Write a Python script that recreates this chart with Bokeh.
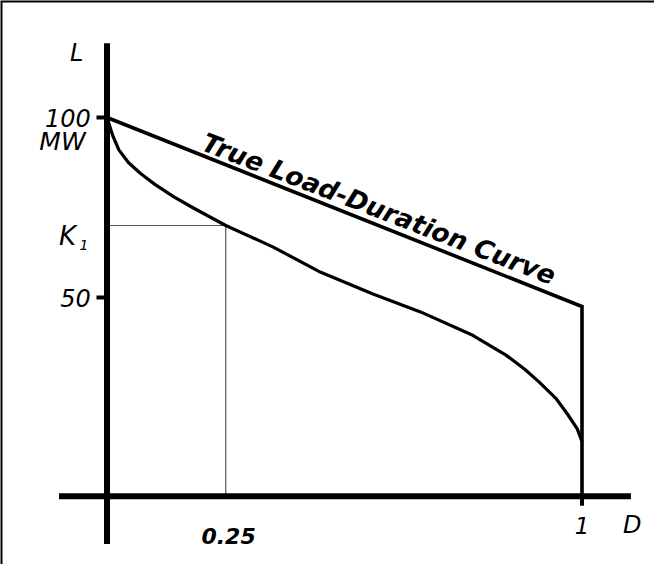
import math
from bokeh.plotting import figure
from bokeh.models import Range1d
from bokeh.core.properties import value
from bokeh.embed import file_html
from bokeh.resources import INLINE

# ---------------- data ----------------
# true load-duration curve (straight line from 100 MW down to the value at D = 1)
true_duration = [0.0, 1.0]
true_load = [100.0, 47.5]

# lower (actual) load-duration curve
duration = [0.0, 0.012, 0.025, 0.045, 0.07, 0.10, 0.14, 0.18, 0.25, 0.35,
            0.45, 0.56, 0.66, 0.77, 0.84, 0.88, 0.91, 0.945, 0.97, 0.99, 1.0]
load = [100.0, 95.0, 91.0, 87.5, 84.5, 81.5, 78.0, 75.0, 70.0, 64.0,
        57.0, 51.0, 46.0, 39.5, 34.0, 30.0, 26.5, 22.0, 17.5, 13.5, 10.0]

k1_duration = 0.25
k1_load = 70.0

y_ticks = [100, 50]
y_tick_labels = ["100", "50"]
x_ticks = [1]
x_tick_labels = ["1"]
curve_label = "True Load-Duration Curve"

# ---------------- layout constants ----------------
W, H = 654, 564                      # canvas starts at page (8, 8)
X_SCALE = 475.0                      # pixels per unit D
Y_SCALE = 3.6                        # pixels per MW
X_START = -(114.5 - 8) / X_SCALE
Y_TOP = (485.0 - 8) / Y_SCALE

AXIS_X_LEVEL = -5.2                  # L value where the horizontal axis sits
AXIS_Y_TOP, AXIS_Y_BOT = 120.6, -18.5
AXIS_X_LEFT, AXIS_X_RIGHT = -0.101, 1.103

p = figure(width=W, height=H, output_backend="svg", toolbar_location=None,
           x_axis_type=None, y_axis_type=None,
           x_range=Range1d(X_START, X_START + W / X_SCALE),
           y_range=Range1d(Y_TOP - H / Y_SCALE, Y_TOP),
           min_border=0, min_border_left=0, min_border_right=0,
           min_border_top=0, min_border_bottom=0)
p.outline_line_color = None
p.grid.visible = False
p.background_fill_color = "white"
p.border_fill_color = "white"

FONT = value("DejaVu Sans")


def up(fs):
    """vertical compensation (in MW) for the SVG text baseline offset"""
    return 0.375 * fs / Y_SCALE


# outer frame (top & left edges of a box)
p.line([X_START + 2.0, X_START, X_START], [Y_TOP, Y_TOP, Y_TOP - 200],
       line_color="black", line_width=4, line_join="miter")

# thin K1 guide lines
p.line([0, k1_duration, k1_duration], [k1_load, k1_load, AXIS_X_LEVEL],
       line_color="#555555", line_width=1.2)

# axes
p.segment(x0=[0], y0=[AXIS_Y_BOT], x1=[0], y1=[AXIS_Y_TOP],
          line_color="black", line_width=6)
p.segment(x0=[AXIS_X_LEFT], y0=[AXIS_X_LEVEL], x1=[AXIS_X_RIGHT], y1=[AXIS_X_LEVEL],
          line_color="black", line_width=6)

# tick marks
tick_len_x = 10.5 / X_SCALE
p.segment(x0=[-tick_len_x] * len(y_ticks), y0=y_ticks, x1=[0] * len(y_ticks), y1=y_ticks,
          line_color="black", line_width=4)
p.segment(x0=x_ticks, y0=[AXIS_X_LEVEL] * len(x_ticks), x1=x_ticks,
          y1=[AXIS_X_LEVEL - 9.5 / Y_SCALE] * len(x_ticks),
          line_color="black", line_width=4)

# true load-duration curve (straight line + vertical drop at D = 1)
p.line(true_duration + [true_duration[-1]], true_load + [AXIS_X_LEVEL],
       line_color="black", line_width=3.6, line_join="miter")

# lower curve
p.line(duration, load, line_color="black", line_width=3.2)

# ---------------- texts ----------------
fs = 24
p.text(x=[-0.034] * len(y_ticks), y=[t - 2.6 + up(fs) for t in y_ticks], text=y_tick_labels,
       text_font=FONT, text_font_style="italic", text_font_size=f"{fs}px",
       text_align="right", text_baseline="alphabetic", text_color="black")
fs = 23
p.text(x=x_ticks, y=[-15.75 + up(fs)], text=x_tick_labels,
       text_font=FONT, text_font_style="italic", text_font_size=f"{fs}px",
       text_align="center", text_baseline="alphabetic", text_color="black")

fs = 24
p.text(x=[-0.064], y=[115.3 + up(fs)], text=["L"], text_font=FONT, text_font_style="italic",
       text_font_size=f"{fs}px", text_align="center", text_baseline="alphabetic")
p.text(x=[1.106], y=[-15.75 + up(fs)], text=["D"], text_font=FONT, text_font_style="italic",
       text_font_size=f"{fs}px", text_align="center", text_baseline="alphabetic")
fs = 25
p.text(x=[-0.045], y=[90.8 + up(fs)], text=["MW"], text_font=FONT, text_font_style="italic",
       text_font_size=f"{fs}px", text_align="right", text_baseline="alphabetic")

fs = 26
p.text(x=[-0.101], y=[64.4 + up(fs)], text=["K"], text_font=FONT, text_font_style="italic",
       text_font_size=f"{fs}px", text_align="left", text_baseline="alphabetic")
fs = 14
p.text(x=[-0.058], y=[63.1 + up(fs)], text=["1"], text_font=FONT, text_font_style="italic",
       text_font_size=f"{fs}px", text_align="left", text_baseline="alphabetic")

fs = 22
p.text(x=[k1_duration + 0.006], y=[-18.5 + up(fs)], text=["0.25"], text_font=FONT,
       text_font_style="bold italic", text_font_size=f"{fs}px",
       text_align="center", text_baseline="alphabetic")

# curve label along the true LDC
fs = 26
mid = 0.565
line_deg = math.degrees(math.atan((true_load[0] - true_load[1]) * Y_SCALE / X_SCALE))
theta = math.radians(line_deg - 0.6)
y_on_line = true_load[0] + (true_load[1] - true_load[0]) * mid
comp_px = 0.375 * fs
lx = mid + comp_px * math.sin(theta) / X_SCALE
ly = y_on_line + 1.75 + comp_px * math.cos(theta) / Y_SCALE
p.text(x=[lx], y=[ly], text=[curve_label], angle=-theta,
       text_font=FONT, text_font_style="bold italic", text_font_size=f"{fs}px",
       text_align="center", text_baseline="alphabetic", text_color="black")

open("out.html", "w").write(file_html(p, INLINE))
